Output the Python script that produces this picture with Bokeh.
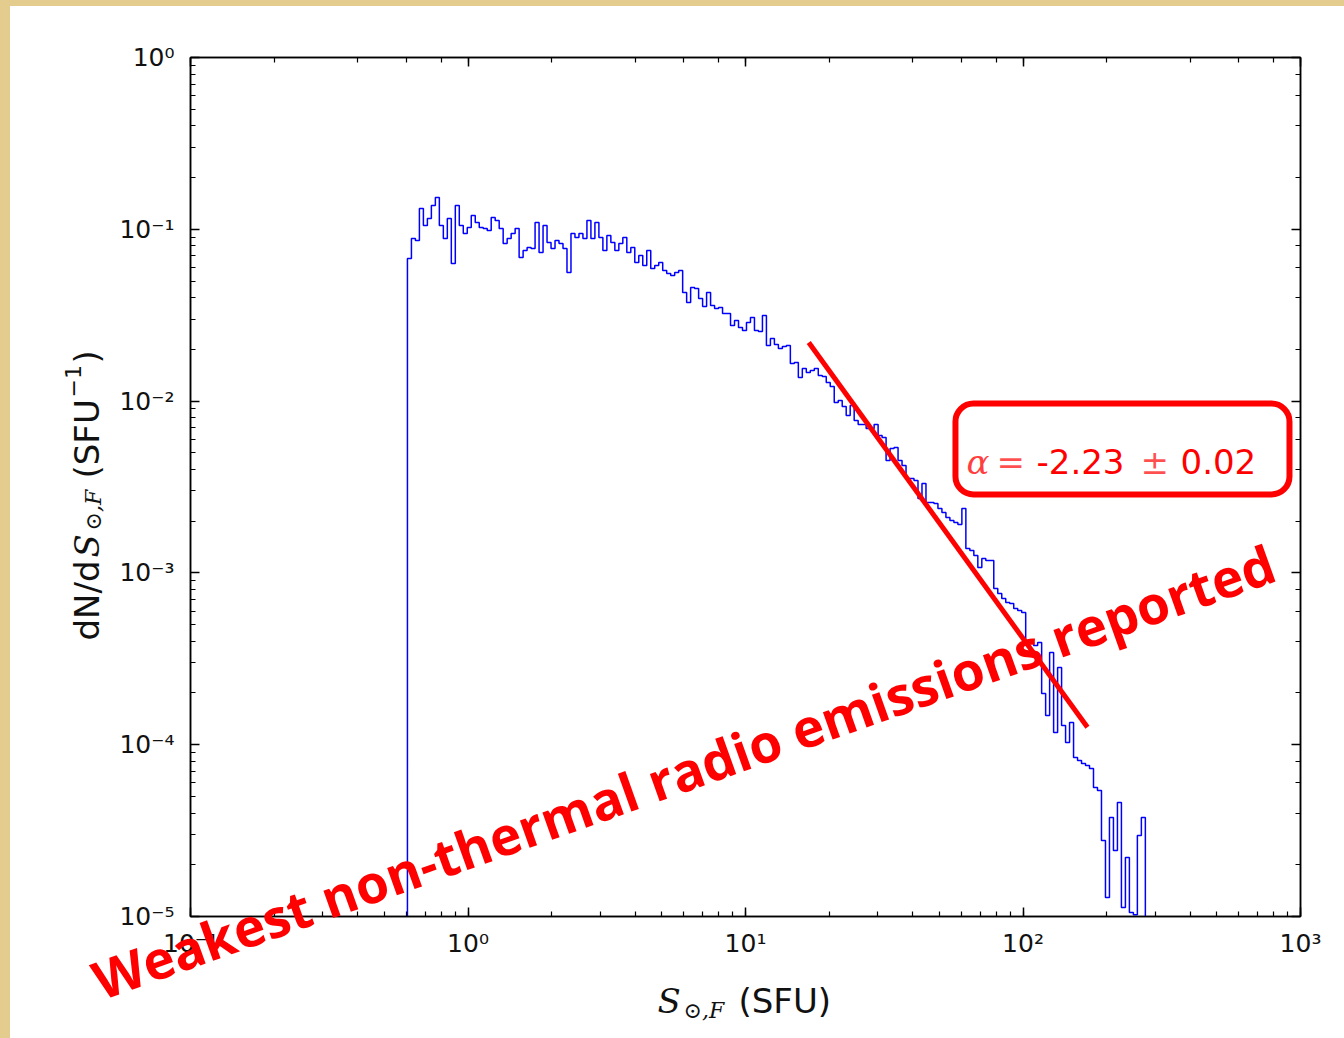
import numpy as np
from bokeh.plotting import figure
from bokeh.models import (Range1d, LogAxis, LogTicker, Label, BoxAnnotation,
                          CustomJSTickFormatter, Spacer)
from bokeh.layouts import row, column
from bokeh.embed import file_html
from bokeh.resources import INLINE

# ---------------- data ----------------
# histogram: logarithmic bins between these two edges (SFU)
s_first_edge = 0.605
s_last_edge = 276.0
# log10 of dN/dS (SFU^-1) in each bin
log10_dnds = [
    -1.170, -1.054, -1.065, -0.879, -0.978, -0.937, -0.861, -0.815, -0.978, -1.054,
    -0.937, -1.199, -0.861, -0.978, -1.024, -0.990, -0.920, -0.960, -0.990, -0.995,
    -1.007, -0.931, -0.949, -0.995, -1.083, -1.054, -1.024, -0.995, -1.164, -1.123,
    -1.106, -1.112, -0.960, -1.135, -0.978, -1.077, -1.112, -1.065, -1.083, -1.112,
    -1.251, -1.024, -1.048, -1.024, -1.054, -0.949, -1.054, -0.960, -1.048, -1.123,
    -1.036, -1.077, -1.123, -1.083, -1.048, -1.135, -1.106, -1.193, -1.152, -1.211,
    -1.123, -1.228, -1.211, -1.193, -1.240, -1.257, -1.269, -1.251, -1.240, -1.368,
    -1.426, -1.339, -1.345, -1.403, -1.449, -1.368, -1.444, -1.461, -1.455, -1.490,
    -1.490, -1.560, -1.531, -1.572, -1.589, -1.542, -1.513, -1.589, -1.595, -1.502,
    -1.676, -1.636, -1.671, -1.694, -1.682, -1.676, -1.781, -1.775, -1.863, -1.810,
    -1.834, -1.822, -1.810, -1.851, -1.857, -1.892, -1.915, -2.008, -1.996, -2.031,
    -2.084, -2.026, -2.113, -2.136, -2.136, -2.159, -2.159, -2.136, -2.200, -2.212,
    -2.346, -2.276, -2.270, -2.346, -2.375, -2.451, -2.451, -2.462, -2.567, -2.480,
    -2.590, -2.590, -2.596, -2.625, -2.648, -2.678, -2.695, -2.707, -2.718, -2.625,
    -2.858, -2.870, -2.899, -2.969, -2.916, -2.928, -2.928, -3.091, -3.120, -3.149,
    -3.172, -3.178, -3.207, -3.219, -3.231, -3.411, -3.405, -3.423, -3.405, -3.702,
    -3.830, -3.463, -3.929, -3.551, -3.888, -3.987, -3.871, -4.074, -4.092, -4.109,
    -4.121, -4.139, -4.249, -4.267, -4.558, -4.889, -4.424, -4.616, -4.336, -4.948,
    -4.657, -4.977, -4.990, -4.529, -4.424,
]
# power-law fit dN/dS = A * S^alpha
fit_alpha = -2.23
fit_alpha_err = 0.02
fit_amplitude = 12.0
fit_s = [16.9, 170.7]

fit_text_value = f"{fit_alpha:.2f}"
fit_text_err = f"{fit_alpha_err:.2f}"
overlay_text = "Weakest non-thermal radio emissions reported"

# ---------------- build ----------------
n = len(log10_dnds)
edges = np.geomspace(s_first_edge, s_last_edge, n + 1)
dnds = 10.0 ** np.array(log10_dnds)
floor = 1e-7
hx = np.repeat(edges, 2)
hy = np.concatenate([[floor], np.repeat(dnds, 2), [floor]])

fit_x = np.array(fit_s)
fit_y = fit_amplitude * fit_x ** fit_alpha

p = figure(width=1334, height=1032, x_axis_type="log", y_axis_type="log",
           x_range=Range1d(0.1, 1000), y_range=Range1d(1e-5, 1),
           output_backend="svg", toolbar_location=None, title=None,
           min_border_left=180, min_border_right=44,
           min_border_top=51, min_border_bottom=122)
p.background_fill_color = "white"
p.border_fill_color = "white"
p.outline_line_color = "black"
p.outline_line_width = 1.5
p.xgrid.visible = False
p.ygrid.visible = False

fmt_code = """
const sup = {"-":"\u207b","0":"\u2070","1":"\u00b9","2":"\u00b2","3":"\u00b3",
             "4":"\u2074","5":"\u2075","6":"\u2076","7":"\u2077","8":"\u2078","9":"\u2079"};
const e = Math.round(Math.log10(tick));
return "10" + String(e).split("").map(c => sup[c]).join("");
"""

def style_axis(ax, show_labels):
    ax.axis_line_color = "black"
    ax.axis_line_width = 1.5
    ax.major_tick_line_color = "black"
    ax.major_tick_line_width = 1.5
    ax.minor_tick_line_color = "black"
    ax.minor_tick_line_width = 1.2
    ax.major_tick_in = 9
    ax.major_tick_out = 0
    ax.minor_tick_in = 5
    ax.minor_tick_out = 0
    if show_labels:
        ax.formatter = CustomJSTickFormatter(code=fmt_code)
        ax.major_label_text_font = "DejaVu Sans"
        ax.major_label_text_font_size = "25px"
        ax.major_label_text_color = "#111111"
    else:
        ax.formatter = CustomJSTickFormatter(code="return '';")

style_axis(p.xaxis[0], True)
style_axis(p.yaxis[0], True)
p.xaxis[0].major_label_standoff = 12
p.yaxis[0].major_label_standoff = 16

top_ax = LogAxis(ticker=LogTicker())
style_axis(top_ax, False)
p.add_layout(top_ax, "above")
right_ax = LogAxis(ticker=LogTicker())
style_axis(right_ax, False)
p.add_layout(right_ax, "right")

# histogram
p.line(hx, hy, line_color="#0000ff", line_width=1.5)
# fit
p.line(fit_x, fit_y, line_color="#ff0000", line_width=5)

# fit annotation box
p.add_layout(BoxAnnotation(left=57.1, right=912.7, bottom=0.00286, top=0.009683,
                           fill_color=None, fill_alpha=0, line_color="#ff0000",
                           line_alpha=1.0, line_width=6, border_radius=18,
                           level="annotation"))

def lab(fig, text, sx, sy, size, font="DejaVu Sans", style="normal",
        color="#111111", angle=0.0, alpha=1.0):
    fig.add_layout(Label(x=sx, y=sy, x_units="screen", y_units="screen", text=text,
                         text_font=font, text_font_size=f"{size}px",
                         text_font_style=style, text_color=color, text_alpha=alpha,
                         text_align="left", text_baseline="alphabetic",
                         angle=angle))

red = "#ff0000"
lab(p, "\u03b1", 776, 455, 34, "DejaVu Serif", "italic", red, alpha=0.75)
lab(p, "=", 806, 455, 34, "DejaVu Serif", "normal", red, alpha=0.7)
lab(p, fit_text_value, 846, 455, 34, "DejaVu Sans", "normal", red)
lab(p, "\u00b1", 950, 455, 34, "DejaVu Serif", "normal", red, alpha=0.7)
lab(p, fit_text_err, 990, 455, 34, "DejaVu Sans", "normal", red)

parch = {"background-color": "#e4cb8e"}
base = row(Spacer(width=10, height=1038, styles=parch),
           column(Spacer(width=1334, height=6, styles=parch), p))

# transparent overlay covering the whole page (texts outside the plot frame)
W, H = 1344, 1038
ov = figure(width=W, height=H, x_range=Range1d(0, W), y_range=Range1d(0, H),
            output_backend="svg", toolbar_location=None, title=None,
            x_axis_location=None, y_axis_location=None, min_border=0)
ov.background_fill_color = None
ov.border_fill_color = None
ov.outline_line_color = None
ov.xgrid.visible = False
ov.ygrid.visible = False
ov.margin = (-H, 0, 0, 0)

def plab(text, x, y, size, font="DejaVu Sans", style="normal", color="#111111",
         angle=0.0):
    # x, y given in page pixels from the top-left corner
    lab(ov, text, x, H - y, size, font, style, color, angle)

# x axis label
plab("S", 657, 1000, 34, "DejaVu Serif", "italic")
plab("\u2299,F", 683, 1010, 22, "DejaVu Serif", "italic")
plab("(SFU)", 738, 1000, 34)

# y axis label (vertical)
a = np.pi / 2
plab("dN/d", 86, 640, 34, angle=a)
plab("S", 86, 557, 34, "DejaVu Serif", "italic", angle=a)
plab("\u2299,F", 93, 530, 22, "DejaVu Serif", "italic", angle=a)
plab("(SFU", 86, 478, 34, angle=a)
plab("\u22121", 72, 397, 22, angle=a)
plab(")", 86, 363, 34, angle=a)

# overlay text
plab(overlay_text, 94, 981, 53, "Open Sans", "bold", red, angle=0.343)

layout = column(base, ov)

open("out.html", "w").write(file_html(layout, INLINE))
